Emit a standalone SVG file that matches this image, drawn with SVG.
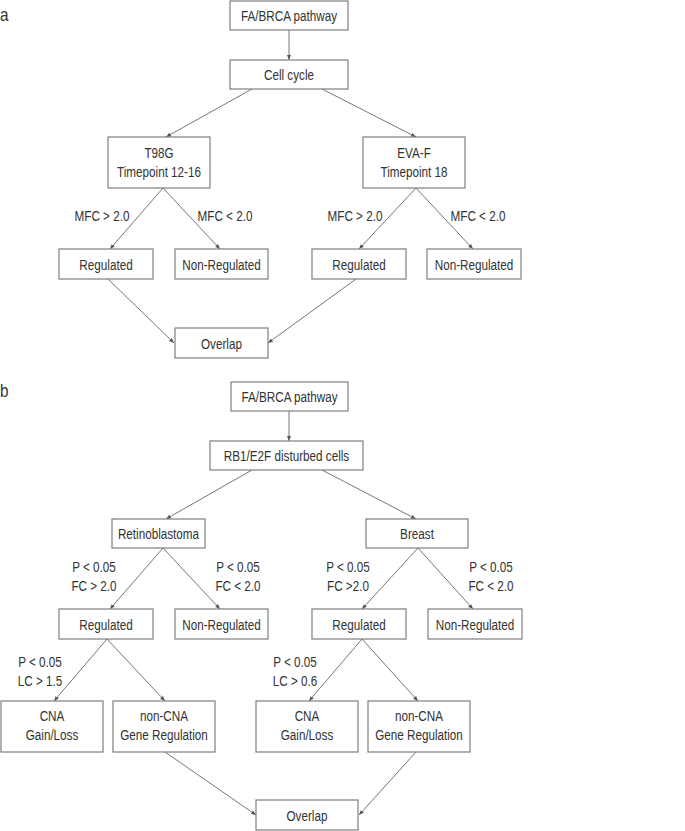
<svg xmlns="http://www.w3.org/2000/svg" width="685" height="831" viewBox="0 0 685 831">
<style>
.box{fill:#fff;stroke:#7f7f7f;stroke-width:1.2}
.t{font-family:"Liberation Sans",Arial,sans-serif;font-size:15px;fill:#333;text-anchor:middle}
.lab{font-family:"Liberation Sans",Arial,sans-serif;font-size:18px;fill:#333}
.c line{stroke:#666;stroke-width:0.9;marker-end:url(#ah)}
</style>
<defs>
<marker id="ah" markerUnits="userSpaceOnUse" markerWidth="6" markerHeight="6" refX="5" refY="3" orient="auto">
<path d="M0,1 L5,3 L0,5 Z" fill="#555"/>
</marker>
</defs>
<rect width="685" height="831" fill="#fff"/>
<text class="lab" transform="translate(0 21) scale(0.85 1)">a</text>
<text class="lab" transform="translate(0 397) scale(0.85 1)">b</text>

<g class="c" id="connectors">
<line x1="289" y1="30" x2="289" y2="60"/>
<line x1="252" y1="89" x2="166" y2="137"/>
<line x1="322" y1="89" x2="416" y2="137"/>
<line x1="163" y1="188" x2="110" y2="249"/>
<line x1="163" y1="188" x2="220" y2="249"/>
<line x1="416" y1="188" x2="359" y2="249"/>
<line x1="416" y1="188" x2="473" y2="249"/>
<line x1="108" y1="279" x2="174" y2="343"/>
<line x1="356" y1="279" x2="268" y2="343"/>
<line x1="289" y1="411" x2="289" y2="441"/>
<line x1="252" y1="470" x2="166" y2="519"/>
<line x1="322" y1="470" x2="416" y2="519"/>
<line x1="163" y1="548" x2="110" y2="609"/>
<line x1="163" y1="548" x2="220" y2="609"/>
<line x1="418" y1="548" x2="362" y2="609"/>
<line x1="418" y1="548" x2="473" y2="609"/>
<line x1="107" y1="639" x2="54" y2="701"/>
<line x1="107" y1="639" x2="165" y2="701"/>
<line x1="362" y1="639" x2="309" y2="701"/>
<line x1="362" y1="639" x2="418" y2="701"/>
<line x1="165" y1="752" x2="256" y2="815"/>
<line x1="416" y1="752" x2="359" y2="815"/>
</g>

<g id="edge-labels">
<text class="t" transform="translate(102 221) scale(0.78 1)">MFC &gt; 2.0</text>
<text class="t" transform="translate(225 221) scale(0.78 1)">MFC &lt; 2.0</text>
<text class="t" transform="translate(355 221) scale(0.78 1)">MFC &gt; 2.0</text>
<text class="t" transform="translate(478 221) scale(0.78 1)">MFC &lt; 2.0</text>
<text class="t" transform="translate(94 572) scale(0.78 1)">P &lt; 0.05</text>
<text class="t" transform="translate(94 591) scale(0.78 1)">FC &gt; 2.0</text>
<text class="t" transform="translate(238 572) scale(0.78 1)">P &lt; 0.05</text>
<text class="t" transform="translate(238 591) scale(0.78 1)">FC &lt; 2.0</text>
<text class="t" transform="translate(348 572) scale(0.78 1)">P &lt; 0.05</text>
<text class="t" transform="translate(348 591) scale(0.78 1)">FC &gt;2.0</text>
<text class="t" transform="translate(491 572) scale(0.78 1)">P &lt; 0.05</text>
<text class="t" transform="translate(491 591) scale(0.78 1)">FC &lt; 2.0</text>
<text class="t" transform="translate(40 667) scale(0.78 1)">P &lt; 0.05</text>
<text class="t" transform="translate(40 686) scale(0.78 1)">LC &gt; 1.5</text>
<text class="t" transform="translate(295 667) scale(0.78 1)">P &lt; 0.05</text>
<text class="t" transform="translate(295 686) scale(0.78 1)">LC &gt; 0.6</text>
</g>

<g id="a-fabrca"><rect class="box" x="230" y="1" width="118" height="29"/><text class="t" transform="translate(289 20.5) scale(0.78 1)">FA/BRCA pathway</text></g>
<g id="a-cellcycle"><rect class="box" x="230" y="60" width="118" height="29"/><text class="t" transform="translate(289 79.5) scale(0.78 1)">Cell cycle</text></g>
<g id="a-t98g"><rect class="box" x="108" y="137" width="102" height="51"/><text class="t" transform="translate(159 158) scale(0.78 1)">T98G</text><text class="t" transform="translate(159 177) scale(0.78 1)">Timepoint 12-16</text></g>
<g id="a-evaf"><rect class="box" x="363" y="137" width="102" height="51"/><text class="t" transform="translate(414 158) scale(0.78 1)">EVA-F</text><text class="t" transform="translate(414 177) scale(0.78 1)">Timepoint 18</text></g>
<g id="a-reg1"><rect class="box" x="59" y="249" width="94" height="30"/><text class="t" transform="translate(106 269.5) scale(0.78 1)">Regulated</text></g>
<g id="a-non1"><rect class="box" x="175" y="249" width="93" height="30"/><text class="t" transform="translate(221.5 269.5) scale(0.78 1)">Non-Regulated</text></g>
<g id="a-reg2"><rect class="box" x="312" y="249" width="94" height="30"/><text class="t" transform="translate(359 269.5) scale(0.78 1)">Regulated</text></g>
<g id="a-non2"><rect class="box" x="427" y="249" width="94" height="30"/><text class="t" transform="translate(474 269.5) scale(0.78 1)">Non-Regulated</text></g>
<g id="a-overlap"><rect class="box" x="175" y="328" width="93" height="30"/><text class="t" transform="translate(221.5 348.5) scale(0.78 1)">Overlap</text></g>

<g id="b-fabrca"><rect class="box" x="231" y="382" width="117" height="29"/><text class="t" transform="translate(289.5 401.5) scale(0.78 1)">FA/BRCA pathway</text></g>
<g id="b-rb1"><rect class="box" x="210" y="441" width="153" height="29"/><text class="t" transform="translate(286.5 460.5) scale(0.78 1)">RB1/E2F disturbed cells</text></g>
<g id="b-retino"><rect class="box" x="112" y="519" width="93" height="29"/><text class="t" transform="translate(158.5 538.5) scale(0.78 1)">Retinoblastoma</text></g>
<g id="b-breast"><rect class="box" x="366" y="519" width="102" height="29"/><text class="t" transform="translate(417 538.5) scale(0.78 1)">Breast</text></g>
<g id="b-reg1"><rect class="box" x="59" y="609" width="94" height="30"/><text class="t" transform="translate(106 629.5) scale(0.78 1)">Regulated</text></g>
<g id="b-non1"><rect class="box" x="175" y="609" width="93" height="30"/><text class="t" transform="translate(221.5 629.5) scale(0.78 1)">Non-Regulated</text></g>
<g id="b-reg2"><rect class="box" x="312" y="609" width="94" height="30"/><text class="t" transform="translate(359 629.5) scale(0.78 1)">Regulated</text></g>
<g id="b-non2"><rect class="box" x="428" y="609" width="94" height="30"/><text class="t" transform="translate(475 629.5) scale(0.78 1)">Non-Regulated</text></g>
<g id="b-cna1"><rect class="box" x="1" y="701" width="102" height="51"/><text class="t" transform="translate(52 721) scale(0.78 1)">CNA</text><text class="t" transform="translate(52 739.5) scale(0.78 1)">Gain/Loss</text></g>
<g id="b-noncna1"><rect class="box" x="113" y="701" width="102" height="51"/><text class="t" transform="translate(164 721) scale(0.78 1)">non-CNA</text><text class="t" transform="translate(164 739.5) scale(0.78 1)">Gene Regulation</text></g>
<g id="b-cna2"><rect class="box" x="256" y="701" width="102" height="51"/><text class="t" transform="translate(307 721) scale(0.78 1)">CNA</text><text class="t" transform="translate(307 739.5) scale(0.78 1)">Gain/Loss</text></g>
<g id="b-noncna2"><rect class="box" x="368" y="701" width="102" height="51"/><text class="t" transform="translate(419 721) scale(0.78 1)">non-CNA</text><text class="t" transform="translate(419 739.5) scale(0.78 1)">Gene Regulation</text></g>
<g id="b-overlap"><rect class="box" x="256" y="800" width="102" height="30"/><text class="t" transform="translate(307 820.5) scale(0.78 1)">Overlap</text></g>
</svg>
